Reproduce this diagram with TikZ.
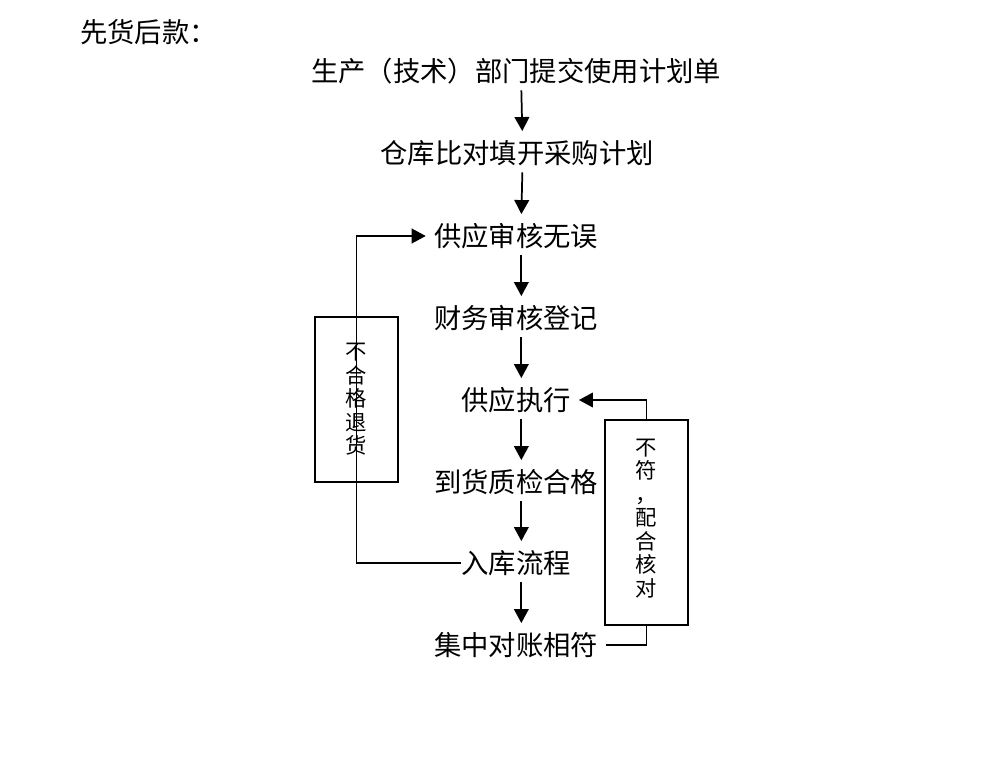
\documentclass[tikz,border=0pt]{standalone}
\usepackage{fontspec}
\usepackage{tikz}
\usetikzlibrary{arrows.meta}
\newfontfamily\cjk{Noto Sans CJK SC}
\tikzstyle{flowtext} =[
    font=\cjk\fontsize{20.5pt}{24pt}\selectfont,
    text height=18pt,
    text depth=2.5pt,
    inner xsep=6pt,
    inner ysep=4pt
    ]
\tikzstyle{sidebox} = [
    draw,
    line width=1.3pt,
    rectangle,
    align=center,
    minimum width=62.25pt,
    font=\cjk\fontsize{16pt}{17.6pt}\selectfont
    ]
\tikzstyle{flowarrow} = [
    line width=1.3pt,
    -{Triangle[length=10.5pt,width=11pt]}
    ]

\begin{document}
\begin{tikzpicture}[x=0.75pt,y=-0.75pt]
\useasboundingbox (0,0) rectangle (981,764);
\node [flowtext, anchor=west, inner xsep=0pt] (heading) at (80,32) {先货后款：};

\node [flowtext] (plan) at (516,71) {生产（技术）部门提交使用计划单};
\node [flowtext] (compare) at (517,153) {仓库比对填开采购计划};
\node [flowtext] (supcheck) at (516,236) {供应审核无误};
\node [flowtext] (finance) at (516,318) {财务审核登记};
\node [flowtext] (execute) at (516,400) {供应执行};
\node [flowtext] (inspect) at (516,482) {到货质检合格};
\node [flowtext] (stock) at (516,563) {入库流程};
\node [flowtext] (recon) at (516,645) {集中对账相符};

% side boxes
\node [sidebox, minimum height=123.75pt] (reject) at (356.5,399.5) {不\\合\\格\\退\\货};
\node [sidebox, minimum height=153.75pt] (check) at (646.5,522.5) {不\\符\\，\\配\\合\\核\\对\\[-10pt]};

\foreach \a/\b in {plan/compare,compare/supcheck,supcheck/finance,finance/execute,execute/inspect,inspect/stock,stock/recon}
    \draw [flowarrow, shorten >=2pt] ([xshift=4pt]\a.south) -- ([xshift=4pt]\b.north);

% loops
\draw [flowarrow] ([xshift=6pt]stock.west) -- (stock.west -| reject) |- (supcheck.west);
\draw [line width=1.3pt] (recon.east) -| (check.south);
\draw [flowarrow] (check.north) |- (execute.east);
\end{tikzpicture}
\end{document}
